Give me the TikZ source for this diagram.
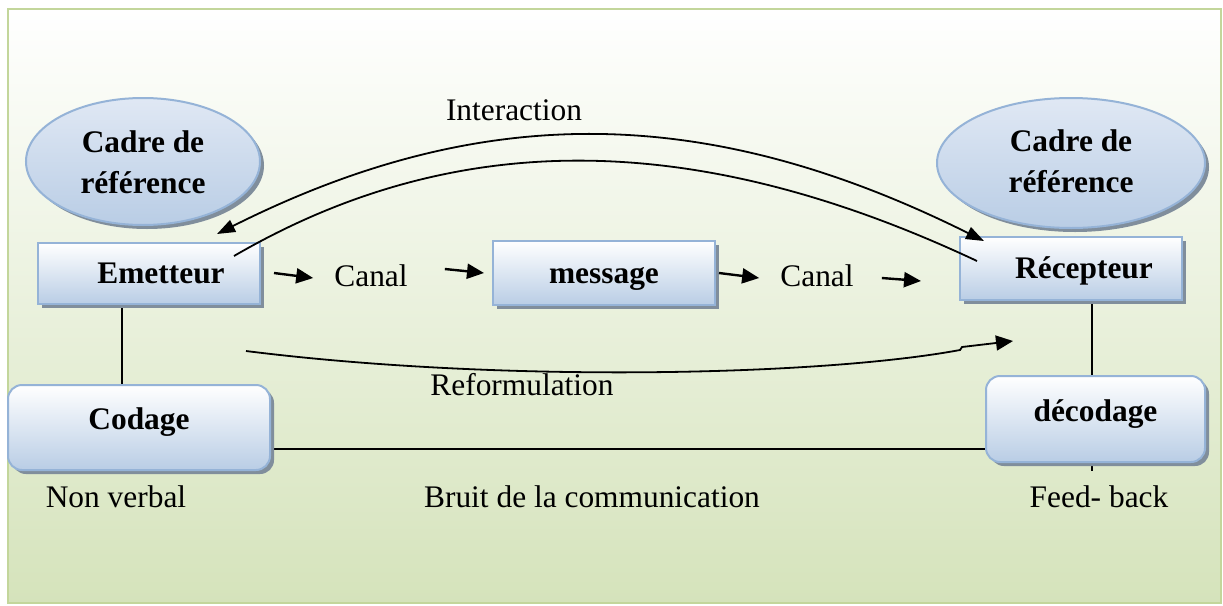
\documentclass[tikz,border=0pt]{standalone}
\usepackage{fontspec}
\setmainfont{Liberation Serif}
\usetikzlibrary{arrows.meta,shapes.geometric,shadows}
\definecolor{framec}{RGB}{195,214,155}
\definecolor{bgbot}{RGB}{213,227,187}
\definecolor{boxborder}{RGB}{149,179,215}
\definecolor{boxbot}{RGB}{185,205,229}
\definecolor{elltop}{RGB}{224,232,244}
\definecolor{shadowc}{RGB}{128,142,156}
\pgfdeclarelayer{bg}
\pgfdeclarelayer{lines}
\pgfsetlayers{bg,lines,main}
\begin{document}
\begin{tikzpicture}[x=1pt,y=-1pt,
  every node/.style={font=\fontsize{31.4}{41}\selectfont, inner sep=0pt},
  basebox/.style={draw=boxborder, line width=2pt, top color=white, bottom color=boxbot,
    drop shadow={shadow xshift=4pt, shadow yshift=-4pt, fill=shadowc, opacity=1},
    font=\fontsize{31.4}{41}\selectfont\bfseries},
  rectbox/.style={basebox, rectangle, text height=21.4pt, text depth=1pt},
  roundbox/.style={basebox, rectangle, rounded corners=14pt, text height=21.4pt, text depth=17pt},
  cadre/.style={basebox, ellipse, top color=elltop},
  conn/.style={line width=1.5pt},
  iarc/.style={line width=1.8pt},
  shortarr/.style={line width=2.4pt, -{Triangle[length=17pt,width=15pt]}},
  itip/.tip={Triangle[length=18pt,width=13pt]},
  rtip/.tip={Triangle[length=17pt,width=15pt]}
]
\useasboundingbox (0,0) rectangle (1223,605);
\begin{pgfonlayer}{bg}
\draw[line width=2.5pt, draw=framec, top color=white, bottom color=bgbot] (8,9) rectangle (1221,603);
\end{pgfonlayer}

% main nodes
\node[cadre, minimum width=234pt, minimum height=127pt] (cl) at (143,161.5)
  {\raisebox{-3pt}[\height][\depth]{\begin{tabular}{@{}c@{}}Cadre de\\référence\end{tabular}}};
\node[cadre, minimum width=268pt, minimum height=130pt] (cr) at (1071,163)
  {\raisebox{-1pt}[\height][\depth]{\begin{tabular}{@{}c@{}}Cadre de\\référence\end{tabular}}};
\node[rectbox, minimum width=222pt, minimum height=61pt] (em) at (149,273.5) {\hspace*{24pt}Emetteur};
\node[rectbox, minimum width=222pt, minimum height=64pt] (msg) at (604,273) {message};
\node[rectbox, minimum width=222pt, minimum height=63pt] (rec) at (1071,268.5) {\hspace*{26pt}Récepteur};
\node[roundbox, minimum width=262pt, minimum height=85pt] (cod) at (139,427.5) {Codage};
\node[roundbox, minimum width=219pt, minimum height=86pt] (dec) at (1095.5,419) {décodage};

% labels
\node (inter) at (514,110) {Interaction};
\node (canal1) at (371,276) {Canal};
\node (canal2) at (817,276) {Canal};
\node (reform) at (522,385) {Reformulation};
\node (nonverb) at (116,497) {Non verbal};
\node (bruit) at (592,497) {Bruit de la communication};
\node (feed) at (1099,497) {Feed- back};

% plain connectors (under boxes)
\begin{pgfonlayer}{lines}
\draw[conn] ([xshift=-27pt]em.south) -- ([xshift=-27pt]em.south |- cod.north);
\draw[conn] ([xshift=21pt]rec.south) -- ([xshift=21pt,yshift=-8pt]rec.south |- dec.south);
\draw[conn] ([yshift=-21.5pt]cod.east) -- ([yshift=-21.5pt]cod.east -| dec.west);
\end{pgfonlayer}

% chain arrows
\draw[shortarr] ([shift={(13,-0.5)}]em.east) -- ([shift={(-21,2)}]canal1.west);
\draw[shortarr] ([shift={(37,-7)}]canal1.east) -- ([shift={(-8,0)}]msg.west);
\draw[shortarr] ([shift={(3,0)}]msg.east) -- ([shift={(-21,2)}]canal2.west);
\draw[shortarr] ([shift={(28,2)}]canal2.east) -- ([shift={(-38,12.5)}]rec.west);

% interaction arcs
\draw[iarc, {itip}-{itip}] ([shift={(-44,-8)}]em.north east) .. controls (480,102) and (705,102) .. ([shift={(25,5)}]rec.north west);
\draw[iarc] ([shift={(-27,14)}]em.north east) .. controls (454,128) and (694,128) .. ([shift={(18,25)}]rec.north west);

% reformulation
\coordinate (rf1) at (246,351);
\coordinate (rfk) at (960,350);
\coordinate (rf2) at (1013,341);
\draw[iarc, -{rtip}] (rf1) .. controls (500,383) and (820,376) .. (rfk) -- ([shift={(2,-3)}]rfk) -- (rf2);
\end{tikzpicture}
\end{document}
